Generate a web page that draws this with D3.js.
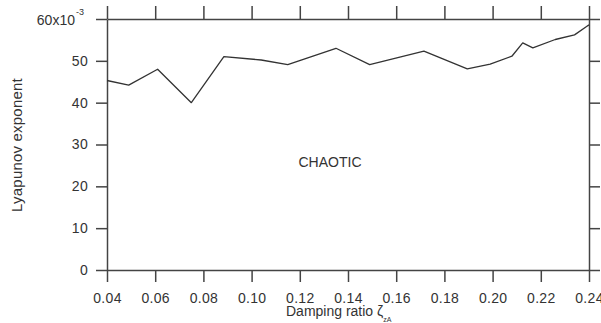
<!DOCTYPE html>
<html>
<head>
<meta charset="utf-8">
<script src="https://cdn.jsdelivr.net/npm/d3@7"></script>
<style>
  body { margin: 0; background: #fff; }
  text { font-family: "Liberation Sans", Arial, sans-serif; fill: #333; }
</style>
</head>
<body>
<div id="chart"></div>
<script>
// damping ratio vs lyapunov exponent (x10^-3)
const dampingRatio = [0.040, 0.049, 0.061, 0.075, 0.0885, 0.104, 0.115, 0.135, 0.149, 0.1715, 0.1895, 0.199, 0.208, 0.2125, 0.2167, 0.226, 0.234, 0.239, 0.240];
const lyapunov = [45.3, 44.2, 48.0, 40.0, 51.0, 50.2, 49.1, 53.0, 49.1, 52.3, 48.1, 49.2, 51.1, 54.3, 53.1, 55.1, 56.2, 58.2, 58.6];
const xTicks = [0.04, 0.06, 0.08, 0.10, 0.12, 0.14, 0.16, 0.18, 0.20, 0.22, 0.24];
const yTicks = [0, 10, 20, 30, 40, 50, 60];

const W = 601, H = 323;
const mLeft = 107, mRight = 589, mTop = 19, mBottom = 270;
const axisColor = '#444';

let svg = d3.select('#chart').append('svg')
    .attr('width', W).attr('height', H);

let x = d3.scaleLinear().domain([0.04, 0.24]).range([mLeft, mRight]);
let y = d3.scaleLinear().domain([0, 60]).range([mBottom, mTop]);

// bottom axis
let xAxis = d3.axisBottom(x).tickValues(xTicks)
    .tickFormat(d3.format('.2f')).tickSize(12).tickSizeOuter(0).tickPadding(11);
svg.append('g').attr('transform', 'translate(0,' + mBottom + ')').call(xAxis);

// top axis, ticks only
svg.append('g').attr('transform', 'translate(0,' + mTop + ')')
    .call(d3.axisTop(x).tickValues(xTicks).tickFormat('').tickSize(13).tickSizeOuter(0));

// left axis
let yAxis = d3.axisLeft(y).tickValues(yTicks)
    .tickFormat(d => d == 60 ? '' : d).tickSize(11).tickSizeOuter(0).tickPadding(8);
svg.append('g').attr('transform', 'translate(' + mLeft + ',0)').call(yAxis);

// right axis, ticks only
svg.append('g').attr('transform', 'translate(' + mRight + ',0)')
    .call(d3.axisRight(y).tickValues(yTicks).tickFormat('').tickSize(11).tickSizeOuter(0));

svg.selectAll('.domain, .tick line')
    .attr('stroke', axisColor).attr('stroke-width', 1.5);
svg.selectAll('.tick text')
    .attr('font-size', 14).attr('fill', '#333')
    .style('font-family', '"Liberation Sans", Arial, sans-serif')
    .attr('letter-spacing', 0.3);

// 60x10^-3 label
let lab = svg.append('text').attr('x', 84).attr('y', 25)
    .attr('text-anchor', 'end').attr('font-size', 14);
lab.append('tspan').text('60x10');
lab.append('tspan').attr('dx', 1).attr('dy', -10).attr('font-size', 9).text('-3');

// line
let line = d3.line()
    .x((d, i) => x(dampingRatio[i]))
    .y(d => y(d));

svg.append('path')
    .datum(lyapunov)
    .attr('d', line)
    .attr('fill', 'none')
    .attr('stroke', '#333')
    .attr('stroke-width', 1.3)
    .attr('stroke-linejoin', 'round');

// annotation
svg.append('text')
    .attr('x', 330).attr('y', 167)
    .attr('text-anchor', 'middle')
    .attr('font-size', 14)
    .text('CHAOTIC');

// axis titles
svg.append('text')
    .attr('transform', 'translate(22,145) rotate(-90)')
    .attr('text-anchor', 'middle')
    .attr('font-size', 15)
    .attr('letter-spacing', 0.2)
    .text('Lyapunov exponent');

let xt = svg.append('text')
    .attr('x', 286).attr('y', 316)
    .attr('font-size', 14);
xt.append('tspan').text('Damping ratio ζ');
xt.append('tspan').attr('dy', 6).attr('font-size', 7).text('zA');
</script>
</body>
</html>
